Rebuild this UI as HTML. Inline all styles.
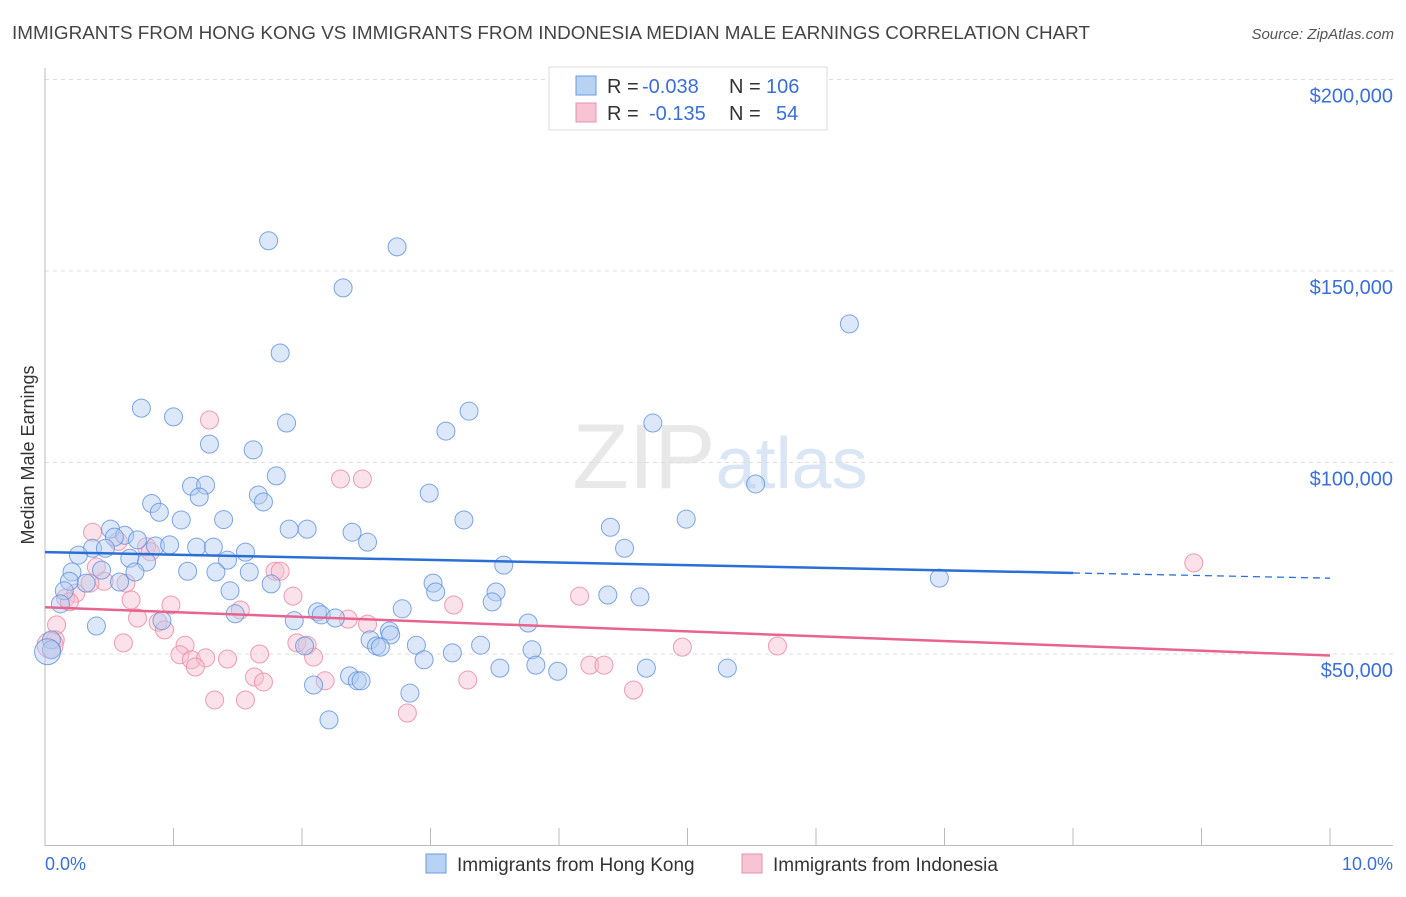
<!DOCTYPE html>
<html><head><meta charset="utf-8"><style>
body{margin:0;background:#fff;font-family:"Liberation Sans",sans-serif;}
svg text{font-family:"Liberation Sans",sans-serif;}
</style></head><body>
<svg id="chart" width="1406" height="892" xmlns="http://www.w3.org/2000/svg">
<text x="12" y="39" font-size="18" fill="#444" textLength="1078" lengthAdjust="spacingAndGlyphs">IMMIGRANTS FROM HONG KONG VS IMMIGRANTS FROM INDONESIA MEDIAN MALE EARNINGS CORRELATION CHART</text>
<text x="1394" y="39" font-size="15" fill="#555" text-anchor="end" font-style="italic">Source: ZipAtlas.com</text>
<text x="720" y="488" font-size="92" fill="#e8e8e8" text-anchor="middle" font-family="Liberation Serif">ZIP<tspan fill="#dae6f5" font-family="Liberation Sans" font-size="72">atlas</tspan></text>
<g id="grid"></g><g id="axes"></g><g id="pts"></g><g id="lines"></g>
<text transform="translate(34,455) rotate(-90)" font-size="18" fill="#333" text-anchor="middle">Median Male Earnings</text>
<text x="45" y="870" font-size="18" fill="#3a6fd8">0.0%</text>
<text x="1393" y="870" font-size="18" fill="#3a6fd8" text-anchor="end">10.0%</text>
<g>
<rect x="549" y="67" width="278" height="63" fill="#fff" stroke="#ddd"/>
<rect x="576" y="76" width="20" height="19" fill="#b8d2f4" stroke="#6a9ae0"/>
<rect x="576" y="103" width="20" height="19" fill="#f8c4d4" stroke="#e890ab"/>
<text x="607" y="93" font-size="20" fill="#333">R =</text>
<text x="642" y="93" font-size="20" fill="#3a6fd8">-0.038</text>
<text x="729" y="93" font-size="20" fill="#333">N =</text>
<text x="766" y="93" font-size="20" fill="#3a6fd8">106</text>
<text x="607" y="120" font-size="20" fill="#333">R =</text>
<text x="649" y="120" font-size="20" fill="#3a6fd8">-0.135</text>
<text x="729" y="120" font-size="20" fill="#333">N =</text>
<text x="776" y="120" font-size="20" fill="#3a6fd8">54</text>
</g>
<g>
<rect x="426" y="854" width="20" height="19" fill="#b8d2f4" stroke="#6a9ae0"/>
<text x="457" y="871" font-size="19" fill="#333">Immigrants from Hong Kong</text>
<rect x="742" y="854" width="20" height="19" fill="#f8c4d4" stroke="#e890ab"/>
<text x="773" y="871" font-size="19" fill="#333">Immigrants from Indonesia</text>
</g>
</svg>
<script>
const yTicks=[50000,100000,150000,200000];
const yTickLabels=["$50,000","$100,000","$150,000","$200,000"];
const xTicks=[0,1,2,3,4,5,6,7,8,9,10];
const hkX=[1.74,2.74,2.32,6.26,1.83,0.75,1.00,3.30,3.12,1.88,4.73,1.28,1.62,1.80,2.99,1.14,1.25,1.20,1.66,1.70,0.83,0.89,5.53,1.06,1.39,3.26,4.99,0.51,1.90,2.04,2.39,4.40,0.62,0.72,0.54,2.51,0.86,0.97,1.18,1.31,4.51,0.37,0.47,0.26,0.66,0.79,1.56,1.42,3.57,0.21,0.44,0.70,1.11,1.33,1.59,6.96,0.19,0.32,0.58,1.76,3.02,3.04,1.44,3.51,4.38,4.63,0.15,3.48,0.12,2.78,1.48,2.12,2.15,0.91,1.94,2.26,3.76,0.40,2.68,2.69,2.53,2.58,2.61,2.89,3.39,3.79,2.02,3.17,2.95,3.82,3.54,3.99,4.68,5.31,2.37,2.43,2.46,2.09,2.84,2.21,0.05,0.05,0.02];
const hkY=[157.9,156.3,145.6,136.2,128.6,114.2,111.9,113.4,108.2,110.3,110.3,104.8,103.3,96.5,92.0,93.8,94.1,91.0,91.5,89.7,89.3,87.0,94.4,85.0,85.1,85.0,85.2,82.6,82.6,82.6,81.8,83.1,81.0,79.8,80.5,79.2,78.2,78.5,77.9,77.9,77.6,77.6,77.6,75.8,75.0,74.0,76.6,74.5,73.2,71.4,71.9,71.4,71.6,71.4,71.4,69.8,69.0,68.5,68.8,68.3,68.5,66.2,66.5,66.2,65.4,64.9,66.5,63.6,63.1,61.8,60.5,61.0,60.2,58.7,58.7,59.4,58.1,57.3,56.0,55.0,53.7,52.1,51.8,52.3,52.3,51.1,52.1,50.3,48.5,47.1,46.3,45.5,46.3,46.3,44.3,43.0,43.0,41.9,39.8,32.8,53.7,51.1,50.6];
const idX=[1.28,2.30,2.47,8.94,0.37,0.57,0.79,0.82,1.79,1.83,0.40,0.46,0.35,0.63,0.24,0.16,0.19,1.93,4.16,0.67,0.98,3.18,1.52,0.72,2.36,0.88,2.51,0.93,0.09,0.08,0.61,1.09,1.96,2.04,4.96,5.70,1.05,1.14,1.25,1.42,1.67,2.09,1.17,4.24,4.35,1.63,1.70,2.18,3.29,4.58,1.32,1.56,2.82,0.04];
const idY=[111.1,95.7,95.7,73.8,81.8,79.4,78.0,76.7,71.6,71.6,72.7,69.0,68.5,68.5,65.9,64.6,63.6,65.1,65.1,64.1,62.8,62.8,61.5,59.4,59.1,58.3,57.8,56.3,57.6,53.7,52.9,52.3,52.9,52.3,51.8,52.1,49.8,48.5,49.0,48.7,50.0,49.2,46.6,47.1,47.1,44.0,42.7,43.0,43.2,40.6,38.0,38.0,34.6,52.3];
const hkTrend=[76.6,69.8];
const idTrend=[62.2,49.6];
const NS="http://www.w3.org/2000/svg";
const X=v=>45+v*128.5;
const Y=k=>845.5-k*191.5/50;
function mk(tag,attrs,parent){const e=document.createElementNS(NS,tag);for(const k in attrs)e.setAttribute(k,attrs[k]);parent.appendChild(e);return e;}
const grid=document.getElementById('grid'),axes=document.getElementById('axes'),pts=document.getElementById('pts'),lines=document.getElementById('lines');
yTicks.forEach((t,i)=>{
 const l=mk('line',{x1:45,x2:1393,y1:Y(t/1000),y2:Y(t/1000),stroke:'#ddd','stroke-dasharray':'4,4'},grid);
 
 
 const tx=mk('text',{x:1393,y:Y(t/1000)+23,'font-size':20,fill:'#3a6fd8','text-anchor':'end'},grid);
 tx.textContent=yTickLabels[i];
 
 
});
const ya=mk('line',{x1:45,x2:45,y1:68,y2:846,stroke:'#bbb'},axes);


const xa=mk('line',{x1:45,x2:1393,y1:845.5,y2:845.5,stroke:'#bbb'},axes);


xTicks.forEach(t=>{
 const l=mk('line',{x1:X(t),x2:X(t),y1:828,y2:846,stroke:'#bbb'},axes);
 
 
});
function dot(x,y,r,fill,stroke,name){
 const c=mk('circle',{cx:X(x),cy:Y(y),r:r,fill:fill,'fill-opacity':0.45,stroke:stroke,'stroke-width':1,'stroke-opacity':0.8},pts);
 
 
}
idX.forEach((x,i)=>dot(x,idY[i],i===idX.length-1?13:9,'#f7bfd0','#e8869f','indonesia-point'));
hkX.forEach((x,i)=>dot(x,hkY[i],i===hkX.length-1?13:9,'#b2cdf2','#5f90dc','hong-kong-point'));
const b1=mk('line',{x1:X(0),y1:Y(hkTrend[0]),x2:X(8),y2:Y(hkTrend[0]+(hkTrend[1]-hkTrend[0])*0.8),stroke:'#2a6fd6','stroke-width':2.5},lines);


const b2=mk('line',{x1:X(8),y1:Y(hkTrend[0]+(hkTrend[1]-hkTrend[0])*0.8),x2:X(10),y2:Y(hkTrend[1]),stroke:'#2a6fd6','stroke-width':1.3,'stroke-dasharray':'7,5'},lines);


const p1=mk('line',{x1:X(0),y1:Y(idTrend[0]),x2:X(10),y2:Y(idTrend[1]),stroke:'#e8648f','stroke-width':2.5},lines);


</script>
</body></html>
